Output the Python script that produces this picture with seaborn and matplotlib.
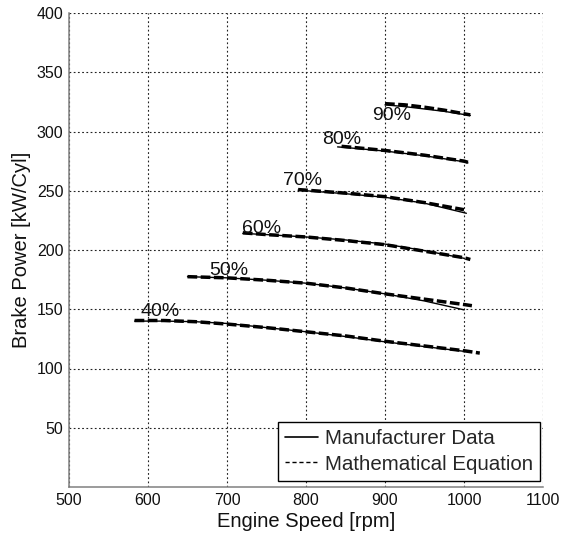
import matplotlib
matplotlib.use("Agg")
import matplotlib.pyplot as plt
from matplotlib.lines import Line2D
import seaborn as sns
import pandas as pd

# ---- data ----
load_labels = ["40%", "50%", "60%", "70%", "80%", "90%"]

mfr_speeds = [
    [583, 620, 660, 700, 750, 800, 850, 900, 950, 1000],
    [650, 700, 750, 800, 850, 900, 950, 1000],
    [720, 750, 800, 850, 900, 950, 1000],
    [790, 800, 850, 900, 950, 1003],
    [840, 850, 900, 950, 1000, 1005],
    [900, 925, 950, 975, 1008],
]
mfr_powers = [
    [140, 140, 139.5, 138, 134.5, 131, 127, 122.5, 118.5, 114.5],
    [177.5, 176.5, 174.5, 172, 168, 163, 157, 149.5],
    [214, 213, 211, 208.5, 205, 199.5, 193],
    [250.5, 250, 247.5, 244.5, 239.5, 231],
    [287, 286.5, 283.5, 279.5, 274.5, 273.5],
    [322.5, 321, 319, 317, 313.5],
]

eq_speeds = [
    [583, 620, 660, 700, 750, 800, 850, 900, 950, 1000, 1020],
    [650, 700, 750, 800, 850, 900, 950, 1000, 1010],
    [720, 750, 800, 850, 900, 950, 1000, 1008],
    [790, 800, 850, 900, 950, 1000],
    [845, 900, 950, 1000, 1005],
    [900, 925, 950, 975, 1008],
]
eq_powers = [
    [140.5, 140.5, 139.5, 137.5, 134.5, 131, 127.5, 123, 119, 115, 113],
    [177.5, 176.5, 174.5, 172, 168, 163, 158.5, 154, 153],
    [214.5, 213, 211, 208, 204.5, 199, 193.5, 192],
    [251, 250.5, 248, 245, 240, 234],
    [287.5, 284, 280, 275, 274],
    [323.5, 322.5, 320.5, 318, 314],
]

label_speed = [591, 677, 719, 771, 820, 884]
label_power = [144, 179, 214.5, 254.5, 289.5, 310]

x_ticks = [500, 600, 700, 800, 900, 1000, 1100]
y_ticks = [50, 100, 150, 200, 250, 300, 350, 400]

series_names = ["Manufacturer Data", "Mathematical Equation"]

# ---- long tables ----
rows = []
for lab, sp, pw in zip(load_labels, mfr_speeds, mfr_powers):
    for s, p in zip(sp, pw):
        rows.append({"speed": s, "power": p, "load": lab, "source": series_names[0]})
df_mfr = pd.DataFrame(rows)
rows = []
for lab, sp, pw in zip(load_labels, eq_speeds, eq_powers):
    for s, p in zip(sp, pw):
        rows.append({"speed": s, "power": p, "load": lab, "source": series_names[1]})
df_eq = pd.DataFrame(rows)

# ---- style ----
sns.set_style("white")
plt.rcParams["font.family"] = ["Liberation Sans", "DejaVu Sans"]

fig = plt.figure(figsize=(5.67, 5.33), dpi=100)
ax = fig.add_axes([69 / 567, 1 - 487 / 533, (543 - 69) / 567, (487 - 13) / 533])

sns.lineplot(data=df_mfr, x="speed", y="power", units="load", estimator=None,
             sort=False, color="black", linewidth=1.0, ax=ax, legend=False)
sns.lineplot(data=df_eq, x="speed", y="power", units="load", estimator=None,
             sort=False, color="black", linewidth=2.5, linestyle=(0, (2.8, 1.0)),
             ax=ax, legend=False)

for lab, xs, ys in zip(load_labels, label_speed, label_power):
    ax.text(xs, ys, lab, fontsize=14, ha="left", va="baseline", color="#111111")

ax.set_xlim(500, 1100)
ax.set_ylim(0, 400)
ax.set_xticks(x_ticks)
ax.set_yticks(y_ticks)
ax.tick_params(axis="both", direction="in", length=4, width=0.8, color="#555555",
               labelsize=11.5, labelcolor="#111111")
ax.tick_params(axis="x", pad=4)
ax.tick_params(axis="y", pad=4)

ax.grid(True, color="#222222", linestyle=(0, (1.6, 2.2)), linewidth=0.8)
for side in ["top", "right"]:
    ax.spines[side].set_visible(False)
for side in ["left", "bottom"]:
    ax.spines[side].set_color("#808080")
    ax.spines[side].set_linewidth(1.1)

ax.set_xlabel("Engine Speed [rpm]", fontsize=14.5, labelpad=3, color="#111111")
ax.set_ylabel("Brake Power [kW/Cyl]", fontsize=14.5, labelpad=4, color="#111111")

handles = [Line2D([0], [0], color="black", linewidth=1.2),
           Line2D([0], [0], color="black", linewidth=1.0, linestyle=(0, (3, 2)))]
leg = ax.legend(handles, series_names, loc="lower right",
                bbox_to_anchor=(0.994, 0.013), borderaxespad=0, fontsize=14.8,
                frameon=True, fancybox=False, framealpha=1, edgecolor="black",
                handlelength=1.6, handletextpad=0.35, labelspacing=0.3,
                borderpad=0.35)
leg.get_frame().set_linewidth(1.0)

fig.savefig("out.png", dpi=100)
